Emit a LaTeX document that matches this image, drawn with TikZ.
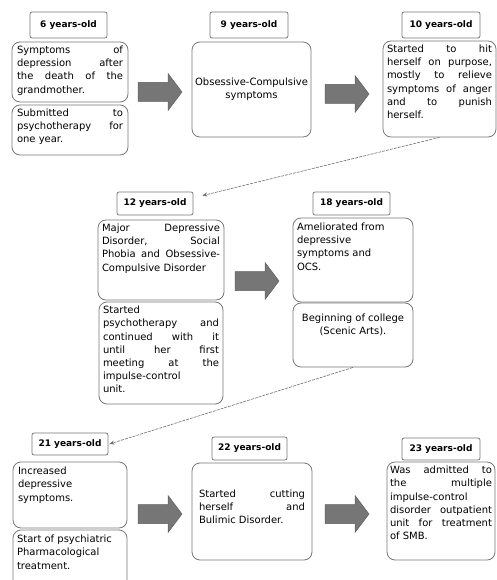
\documentclass[tikz,border=0pt]{standalone}
\usepackage{fontspec}
\setmainfont{DejaVu Sans}
\usetikzlibrary{calc,arrows.meta}
\definecolor{boxline}{RGB}{120,120,120}
\definecolor{arrfill}{RGB}{118,118,118}
\definecolor{connline}{RGB}{110,110,110}
\tikzset{
  agebox/.style={draw=boxline, line width=0.8pt, rounded corners=2pt, fill=white,
    font=\bfseries\fontsize{9}{10}\selectfont, inner sep=0pt},
  evbox/.style={draw=boxline, line width=0.8pt, rounded corners=8pt, fill=white,
    inner sep=0pt, font=\fontsize{10}{13.2}\selectfont},
  blockarrow/.style={fill=arrfill, draw=arrfill!80!black, line width=0.5pt},
  timeline/.style={draw=connline, line width=0.6pt, dash pattern=on 3pt off 1pt, -{Stealth[length=5pt,width=4pt]}}
}
% \evtext{width}{height}{vertical pos}{content}
\newcommand{\evtext}[4]{\parbox[c][#2pt][#3]{#1pt}{\raggedright\vspace*{2pt}#4}}
\newcommand{\mkarrow}[3]{% name, left x, center y
  \coordinate (#1) at (#2,#3);
  \draw[blockarrow] (#2,#3-9.5) -- ++(30,0) -- ++(0,-9) -- (#2+44,#3) -- (#2+30,#3+18.5) -- ++(0,-9) -- (#2,#3+9.5) -- cycle;}
\begin{document}
\begin{tikzpicture}[x=1pt,y=-1pt]
\useasboundingbox (0,0) rectangle (497,580);
\clip (0,0) rectangle (497,580);

% ---- row 1
\node[agebox, minimum width=77, minimum height=26] (lab6) at (68.5,25) {6 years-old};
\node[agebox, minimum width=78, minimum height=26] (lab9) at (249,25) {9 years-old};
\node[agebox, minimum width=78, minimum height=26] (lab10) at (441,25) {10 years-old};

\node[evbox, minimum width=116, minimum height=60] (b1a) at (70,72)
  {\evtext{106}{56}{t}{Symptoms\hfill of\\depression\hfill after\\the\hfill death\hfill of\hfill the\\grandmother.}};
\node[evbox, minimum width=116, minimum height=50] (b1b) at (70,130)
  {\evtext{106}{46}{t}{Submitted\hfill to\\psychotherapy\hfill for\\one year.}};
\node[evbox, minimum width=119, minimum height=95] (b2) at (251.5,89.5)
  {\parbox{115pt}{\centering Obsessive-Compulsive\\symptoms}};
\node[evbox, minimum width=113, minimum height=96] (b3) at (439.5,89)
  {\evtext{105}{92}{t}{Started\hfill to\hfill hit\\herself\hfill on\hfill purpose,\\mostly\hfill to\hfill relieve\\symptoms\hfill of\hfill anger\\and\hfill to\hfill punish\\herself.}};

\mkarrow{a1}{138}{92}
\mkarrow{a2}{325}{94}

% ---- row 2
\node[agebox, minimum width=76, minimum height=23] (lab12) at (155,203.5) {12 years-old};
\node[agebox, minimum width=77, minimum height=23] (lab18) at (351.5,203.5) {18 years-old};

\node[evbox, minimum width=126, minimum height=80] (b4a) at (161,260)
  {\evtext{118}{76}{t}{Major\hfill Depressive\\Disorder,\hfill Social\\Phobia\hfill and\hfill Obsessive-\\Compulsive Disorder}};
\node[evbox, minimum width=124, minimum height=102] (b4b) at (161,353)
  {\evtext{116}{98}{t}{Started\\psychotherapy\hfill and\\continued\hfill with\hfill it\\until\hfill her\hfill first\\meeting\hfill at\hfill the\\impulse-control\\unit.}};
\node[evbox, minimum width=120, minimum height=84] (b5a) at (353,260)
  {\evtext{112}{78}{t}{Ameliorated from\\depressive\\symptoms and\\OCS.}};
\node[evbox, minimum width=120, minimum height=64] (b5b) at (353,335)
  {\parbox[c][58pt][t]{116pt}{\vspace*{8pt}\centering Beginning of college\\(Scenic Arts).}};

\mkarrow{a3}{235}{281}

% ---- row 3
\node[agebox, minimum width=76, minimum height=22] (lab21) at (70,444) {21 years-old};
\node[agebox, minimum width=75, minimum height=23] (lab22) at (249.5,448.5) {22 years-old};
\node[agebox, minimum width=78, minimum height=22] (lab23) at (441,449) {23 years-old};

\node[evbox, minimum width=114, minimum height=66] (b6a) at (70,495)
  {\evtext{104}{60}{t}{Increased\\depressive\\symptoms.}};
\node[evbox, minimum width=114, minimum height=60] (b6b) at (70,560)
  {\evtext{106}{54}{t}{Start of psychiatric\\Pharmacological\\treatment.}};
\node[evbox, minimum width=120, minimum height=97] (b7) at (252,511.5)
  {\evtext{106}{91}{c}{\vspace*{-12pt}Started\hfill cutting\\herself\hfill and\\Bulimic Disorder.}};
\node[evbox, minimum width=108, minimum height=98] (b8) at (441,511)
  {\evtext{102}{94}{t}{Was\hfill admitted\hfill to\\the\hfill multiple\\impulse-control\\disorder\hfill outpatient\\unit\hfill for\hfill treatment\\of SMB.}};

\mkarrow{a4}{138}{514}
\mkarrow{a5}{325}{514}

% ---- timeline connectors
\draw[timeline] (b3.south) -- ([xshift=9pt,yshift=-4pt]lab12.north east);
\draw[timeline] (b5b.south) -- ([xshift=1pt]lab21.east);
\end{tikzpicture}
\end{document}
